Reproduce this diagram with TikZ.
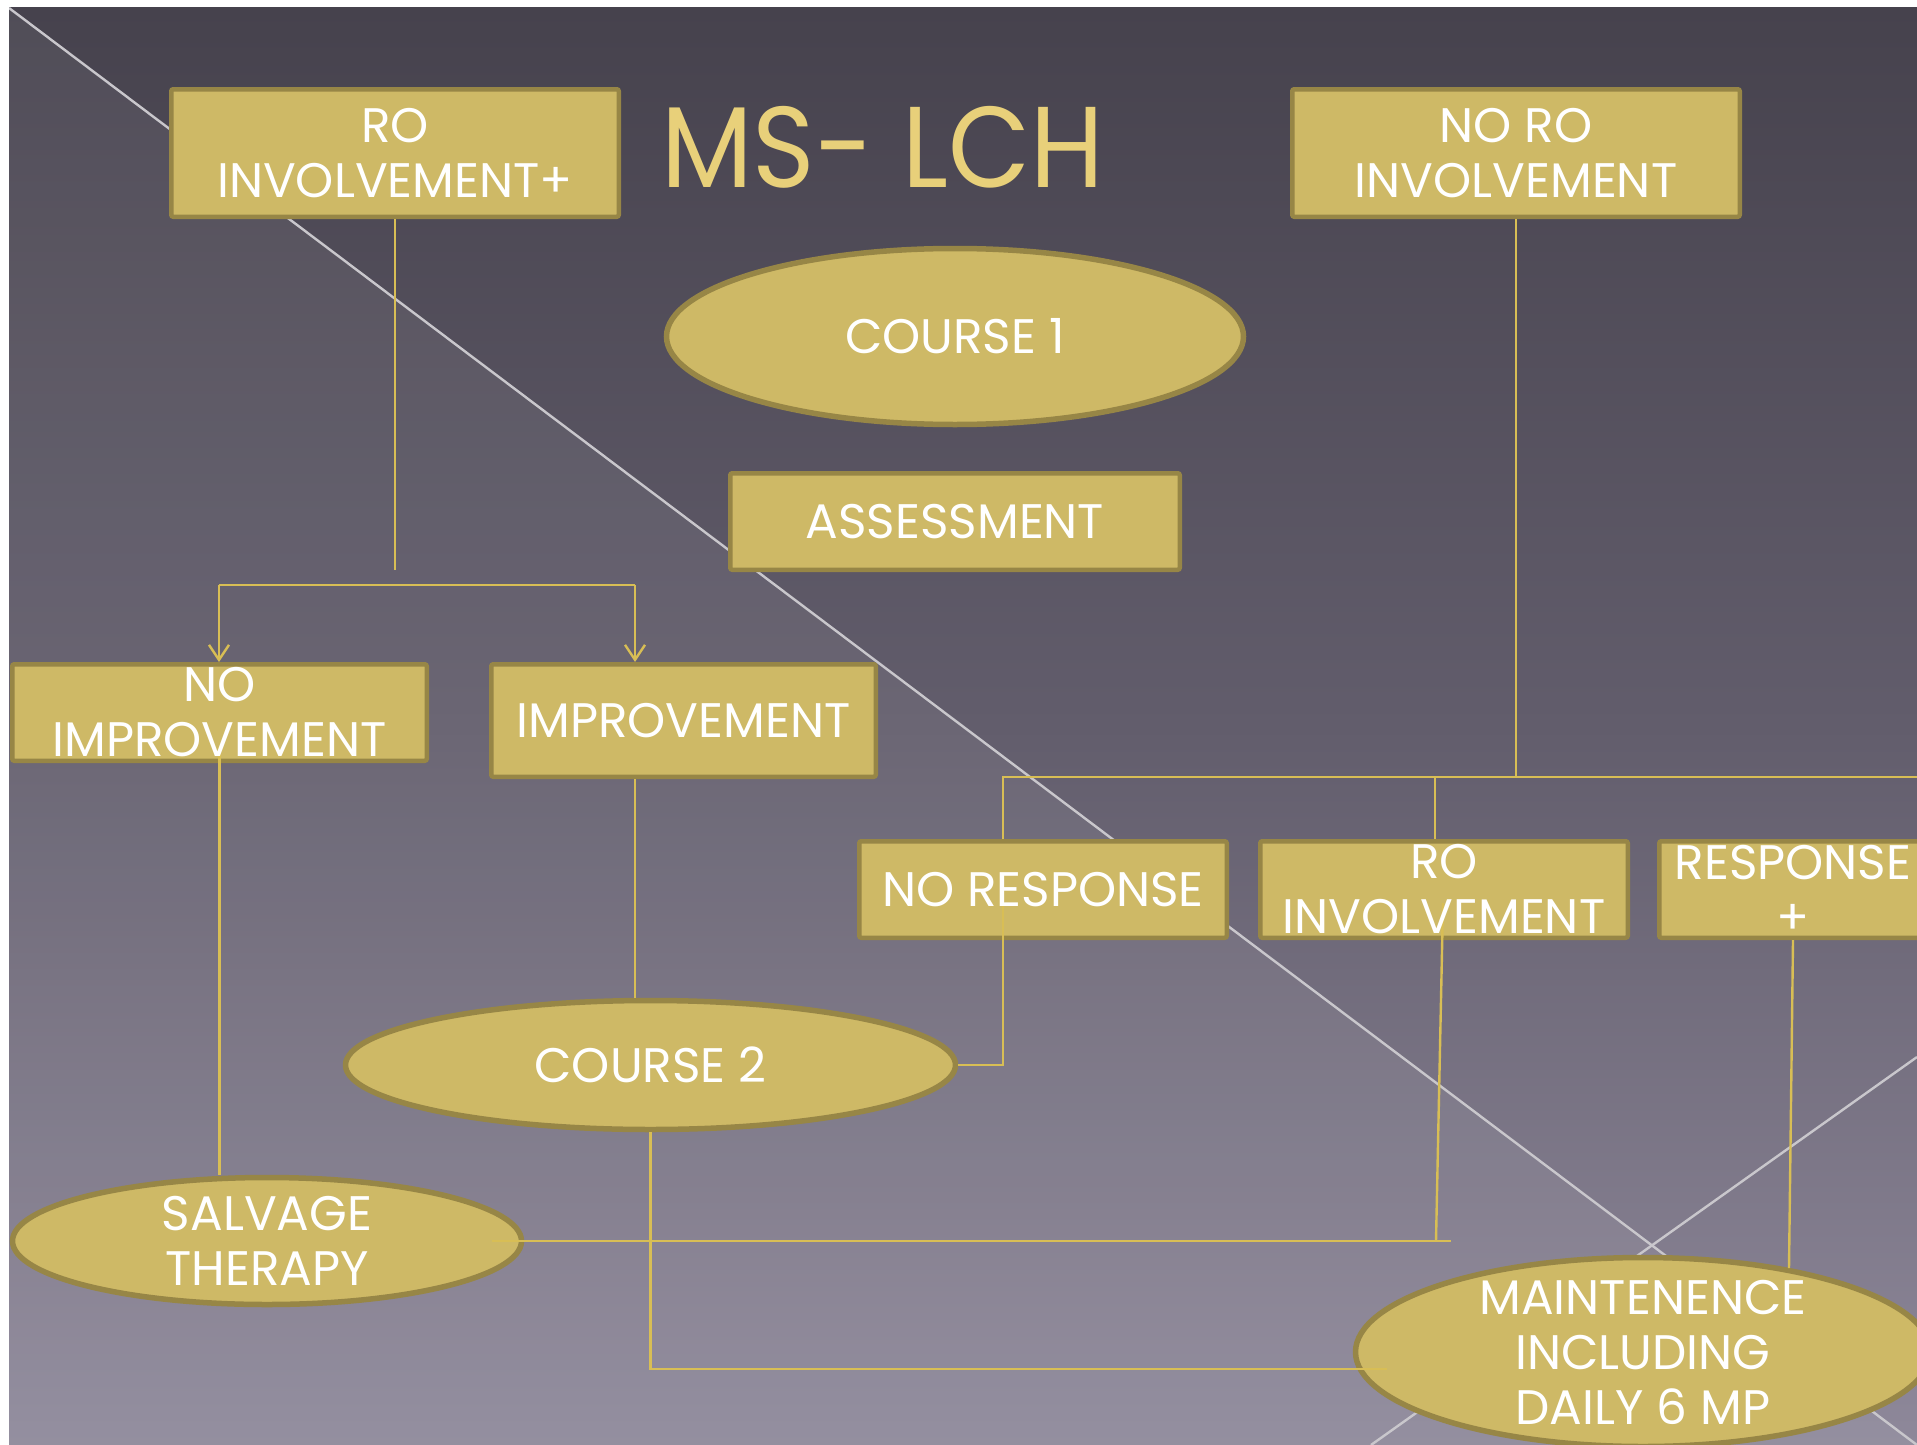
\documentclass[tikz,border=0pt]{standalone}
\usepackage{fontspec}
\setmainfont{Poppins}
\newfontfamily\bodyfont{Poppins}
\newfontfamily\titlefont[FakeStretch=0.925]{Poppins}
\usetikzlibrary{arrows.meta,shapes.geometric}
\definecolor{bgtop}{HTML}{46424D}
\definecolor{bgmid}{HTML}{625D6C}
\definecolor{bgbot}{HTML}{8E889A}
\definecolor{goldfill}{HTML}{CEB966}
\definecolor{goldedge}{HTML}{978646}
\definecolor{goldline}{HTML}{D8BE55}
\definecolor{titlegold}{HTML}{E8D07A}
\definecolor{diag}{HTML}{C9C7CC}
\begin{document}
\begin{tikzpicture}[x=1pt,y=-1pt,
  box/.style={rectangle, draw=goldedge, fill=goldfill, line width=4.5pt, rounded corners=2pt, inner sep=0pt},
  oval/.style={ellipse, draw=goldedge, fill=goldfill, line width=5.5pt, inner sep=0pt},
  lbl/.style={text=white, font=\bodyfont\fontsize{48.5}{55}\selectfont, align=center, inner sep=0pt},
  conn/.style={draw=goldline, line width=2.4pt},
  diagline/.style={draw=diag, line width=2.4pt},
  tip/.style={-{Straight Barb[length=15pt,width=20pt]}}
]
\useasboundingbox (0,0) rectangle (1917,1445);
\fill[white] (0,0) rectangle (1917,1445);
\begin{scope}
\clip (9,8) rectangle (1917,1445);
\shade[top color=bgtop, bottom color=bgbot, middle color=bgmid] (9,8) rectangle (1917,1445);
\fill[white, opacity=0.06] (9,8) -- (1917,1445) -- (9,1445) -- cycle;
\draw[diagline] (9,8) -- (1917,1445);
\draw[diagline] (1371,1445) -- (1917,1057);

% title
\node[text=titlegold, font=\titlefont\fontsize{115}{115}\selectfont, inner sep=0pt, anchor=base] (title) at (882.5,187) {MS- LCH};

% shapes
\node[box, minimum width=447.5, minimum height=127.5] (roinv) at (395,153) {};
\node[box, minimum width=447.5, minimum height=127.5] (noro) at (1516,153) {};
\node[oval, minimum width=577, minimum height=176] (course1) at (955,336.5) {};
\node[box, minimum width=449.5, minimum height=96.5] (assess) at (955,521.5) {};
\node[box, minimum width=414.5, minimum height=96.5] (noimp) at (219.5,712.5) {};
\node[box, minimum width=384.5, minimum height=112.5] (imp) at (683.5,720.5) {};
\node[box, minimum width=367.5, minimum height=96.5] (noresp) at (1043,889.5) {};
\node[box, minimum width=367.5, minimum height=96.5] (roinv2) at (1444,889.5) {};
\node[box, minimum width=267.5, minimum height=96.5] (resp) at (1793,889.5) {};
\node[oval, minimum width=610, minimum height=129] (course2) at (650.5,1065) {};
\node[oval, minimum width=509, minimum height=127] (salvage) at (267,1241) {};
\node[oval, minimum width=575, minimum height=189] (maint) at (1643,1352) {};

% connectors
\coordinate (j1) at (395,570);
\draw[conn] (roinv.south) -- (j1);
\coordinate (b1) at (219,585);
\coordinate (b2) at (635,585);
\draw[conn] (b1) -- (b2);
\draw[conn, tip] (b1) -- (b1 |- noimp.north);
\draw[conn, tip] (b2) -- (b2 |- imp.north);
\draw[conn] ([yshift=-34pt]noimp.center) -- (noimp.center |- salvage.north);
\draw[conn] (b2 |- imp.south) -- (b2 |- course2.north);
\coordinate (busL) at (1003,777);
\coordinate (busM) at (1435,777);
\coordinate (busR) at (1935,777);
\draw[conn] (noro.south) -- (noro.south |- busL);
\draw[conn] (busL |- noresp.north) -- (busL) -- (busR);
\draw[conn] (busM) -- (busM |- roinv2.north);
\coordinate (nr1) at (1003,903);
\draw[conn] (nr1) |- (course2.east);
\coordinate (ri1) at (1443,903);
\coordinate (ri2) at (1436,1241);
\coordinate (ri3) at (1451,1241);
\draw[conn] (ri1) -- (ri2);
\draw[conn] ([xshift=-32pt]salvage.east) -- (ri3);
\coordinate (m1) at (1387,1369);
\draw[conn] (course2.south) |- (m1);
\coordinate (m2) at (1789,1268);
\draw[conn] (resp.south) -- (m2);

% labels
\node[lbl] (roinv-t) at (roinv) {RO\\INVOLVEMENT+};
\node[lbl] (noro-t) at (noro) {NO RO\\INVOLVEMENT};
\node[lbl] (course1-t) at (course1) {COURSE 1};
\node[lbl] (assess-t) at (assess) {ASSESSMENT};
\node[lbl] (noimp-t) at (noimp) {NO\\IMPROVEMENT};
\node[lbl] (imp-t) at (imp) {IMPROVEMENT};
\node[lbl] (noresp-t) at (noresp) {NO RESPONSE};
\node[lbl] (roinv2-t) at (roinv2) {RO\\INVOLVEMENT};
\node[lbl] (resp-t) at (resp) {RESPONSE\\+};
\node[lbl] (course2-t) at (course2) {COURSE 2};
\node[lbl] (salvage-t) at (salvage) {SALVAGE\\THERAPY};
\node[lbl] (maint-t) at (maint) {MAINTENENCE\\INCLUDING\\DAILY 6 MP};
\end{scope}
\end{tikzpicture}
\end{document}
